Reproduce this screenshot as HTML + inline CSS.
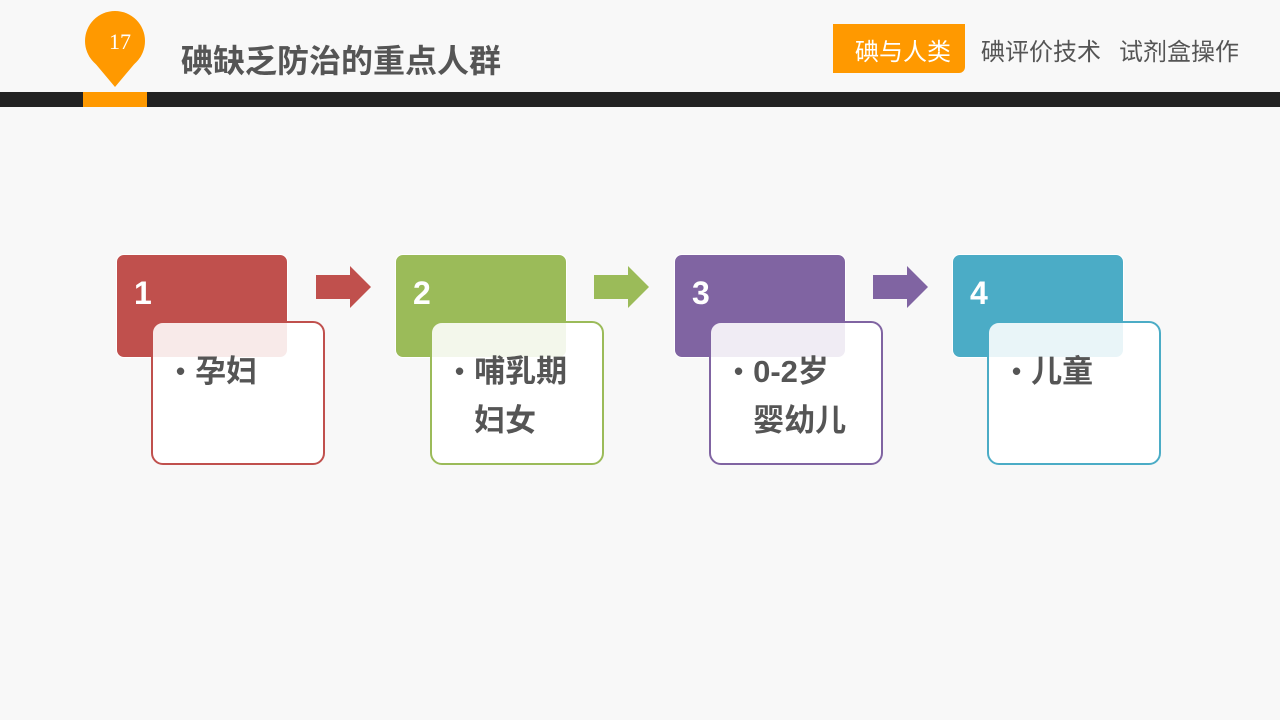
<!DOCTYPE html>
<html><head><meta charset="utf-8"><style>
body{margin:0;width:1280px;height:720px;background:#f8f8f8;position:relative;overflow:hidden;font-family:"Liberation Sans","Noto Sans CJK SC",sans-serif}
.a{position:absolute}
.cb{position:absolute;width:172px;height:104px;top:254px;border-radius:8px;border:1px solid #fff;box-sizing:border-box}
.cb span{position:absolute;left:17px;top:20px;color:#fff;font-weight:bold;font-size:32px}
.wb{position:absolute;width:174px;height:144px;top:321px;border-radius:12px;border:2px solid;box-sizing:border-box;background:rgba(255,255,255,0.88)}
.wb div{position:absolute;left:23px;top:24px;font-size:31px;font-weight:bold;color:#555;line-height:48px;white-space:nowrap}
.wb div b{font-size:26px;margin-right:10px;vertical-align:2px}
</style></head><body>
<svg class="a" style="left:0;top:0" width="1280" height="110">
<circle cx="115" cy="41" r="30" fill="#ff9900"/>
<polygon points="89,56 141,56 115,87" fill="#ff9900"/>
<text x="120" y="49" font-family="Liberation Serif" font-size="22" fill="#fff" text-anchor="middle">17</text>
<rect x="0" y="92" width="1280" height="15" fill="#222"/>
<rect x="83" y="92" width="64" height="15" fill="#ff9900"/>
</svg>
<div class="a" style="left:181px;top:36px;font-size:32px;font-weight:bold;color:#555">碘缺乏防治的重点人群</div>
<div class="a" style="left:833px;top:24px;width:132px;height:49px;background:#ff9900;border-radius:0 0 6px 0"></div>
<div class="a" style="left:855px;top:32px;font-size:24px;color:#fff">碘与人类</div>
<div class="a" style="left:981px;top:32px;font-size:24px;color:#555">碘评价技术</div>
<div class="a" style="left:1119px;top:32px;font-size:24px;color:#555">试剂盒操作</div>

<div class="cb" style="left:116px;background:#c0504d"><span>1</span></div>
<div class="wb" style="left:151px;border-color:#c0504d"><div><b>•</b>孕妇</div></div>
<div class="cb" style="left:395px;background:#9bbb59"><span>2</span></div>
<div class="wb" style="left:430px;border-color:#9bbb59"><div><b>•</b>哺乳期<br><b style="visibility:hidden">•</b>妇女</div></div>
<div class="cb" style="left:674px;background:#8064a2"><span>3</span></div>
<div class="wb" style="left:709px;border-color:#8064a2"><div><b>•</b>0-2岁<br><b style="visibility:hidden">•</b>婴幼儿</div></div>
<div class="cb" style="left:952px;background:#4bacc6"><span>4</span></div>
<div class="wb" style="left:987px;border-color:#4bacc6"><div><b>•</b>儿童</div></div>

<svg class="a" style="left:0;top:0" width="1280" height="720">
<polygon points="316,275 350,275 350,266 371,287 350,308 350,299 316,299" fill="#c0504d"/>
<polygon points="594,275 628,275 628,266 649,287 628,308 628,299 594,299" fill="#9bbb59"/>
<polygon points="873,275 907,275 907,266 928,287 907,308 907,299 873,299" fill="#8064a2"/>
</svg>
</body></html>
